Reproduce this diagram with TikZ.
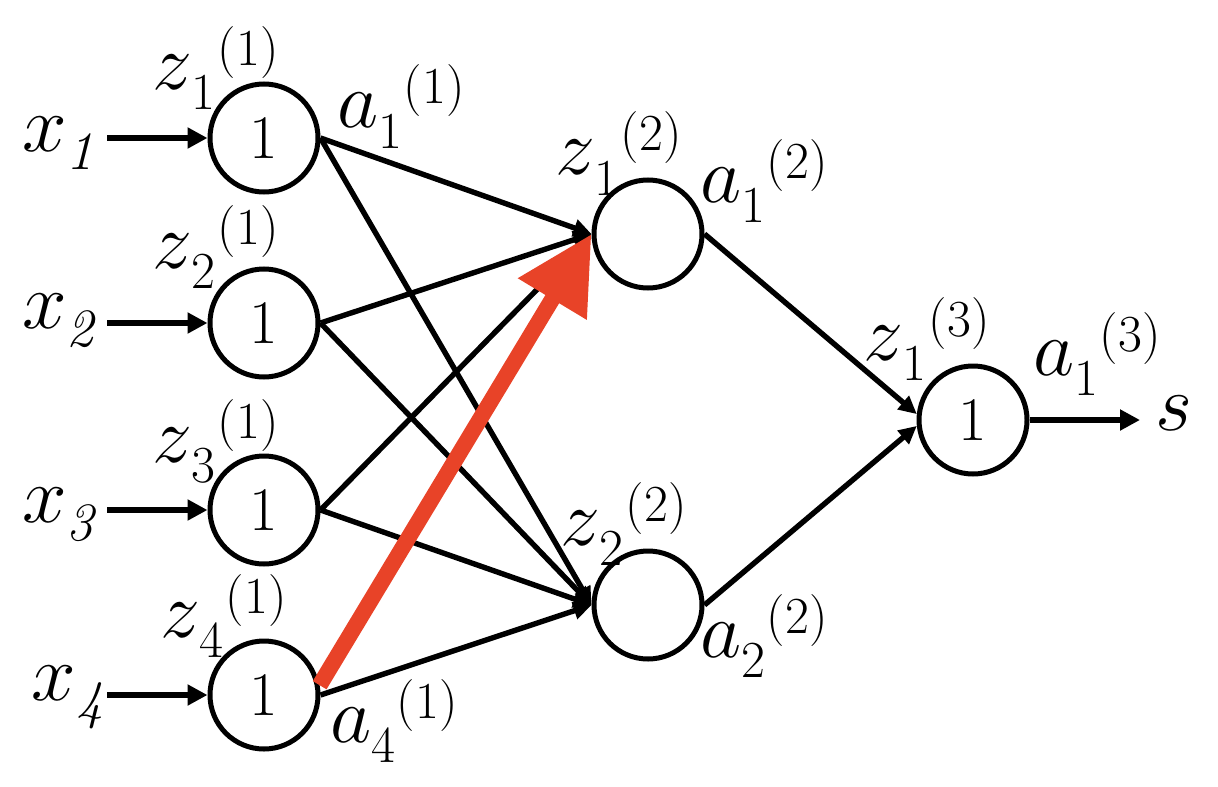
\RequirePackage{fix-cm}
\documentclass[tikz,border=0pt]{standalone}
\usepackage{fontspec}
\usetikzlibrary{arrows.meta}
\definecolor{redarrow}{RGB}{232,67,40}
\newcommand{\bigf}{\fontsize{40}{40}\selectfont}
\newcommand{\xlab}[1]{{\bigf$x$}\raisebox{-9pt}{\fontsize{27}{27}\selectfont$\mathit{#1}$}}
\newcommand{\nlab}[3]{{\bigf$#1$}\raisebox{-10pt}{\fontsize{26}{26}\selectfont$#2$}\hspace{1pt}\raisebox{12pt}{\fontsize{26}{26}\selectfont$(#3)$}}
\begin{document}
\begin{tikzpicture}[x=0.5pt,y=-0.5pt,
  neuron/.style={circle,draw,line width=2.5pt,minimum size=54pt,inner sep=0pt,font=\fontsize{31}{31}\selectfont},
  lab/.style={anchor=base west,inner sep=0pt,outer sep=0pt},
  conn/.style={line width=2.7pt,-{Triangle[length=9pt,width=8.5pt]}},
  inarr/.style={line width=3.4pt,-{Triangle[length=10pt,width=10pt]}},
  hot/.style={line width=8pt,draw=redarrow,-{Triangle[length=38pt,width=38pt]}}]
\useasboundingbox (0,0) rectangle (1218,786);
% neurons
\node[neuron] (n11) at (264,138) {1};
\node[neuron] (n12) at (264,323) {1};
\node[neuron] (n13) at (264,510) {1};
\node[neuron] (n14) at (264,695) {1};
\node[neuron] (n21) at (648,234) {};
\node[neuron] (n22) at (648,605) {};
\node[neuron] (n31) at (973,420) {1};
% input / output coordinates
\coordinate (i1) at (107,138);
\coordinate (i2) at (107,323);
\coordinate (i3) at (107,510);
\coordinate (i4) at (107,695);
\coordinate (o) at (1140,420);
% inputs
\foreach \k in {1,...,4} {\draw[inarr] (i\k) -- (n1\k.west);}
% layer 1 -> 2
\foreach \k in {1,2,3} {\draw[conn] (n1\k.east) -- (n21.west);}
\foreach \k in {1,...,4} {\draw[conn] (n1\k.east) -- (n22.west);}
% layer 2 -> 3
\draw[conn] (n21.east) -- (n31.174);
\draw[conn] (n22.east) -- (n31.186);
% output
\draw[inarr] (n31.east) -- (o);
% highlighted connection
\draw[hot] (n14.10) -- (n21.west);
% labels
\node[lab] (x1) at (22,152) {\xlab{1}};
\node[lab] (x2) at (22,328) {\xlab{2}};
\node[lab] (x3) at (22,522) {\xlab{3}};
\node[lab] (x4) at (32,700) {\xlab{4}};
\node[lab] (z11) at (152,90) {\nlab{z}{1}{1}};
\node[lab] (z21) at (152,268) {\nlab{z}{2}{1}};
\node[lab] (z31) at (152,462) {\nlab{z}{3}{1}};
\node[lab] (z41) at (160,637) {\nlab{z}{4}{1}};
\node[lab] (a11) at (337,128) {\nlab{a}{1}{1}};
\node[lab] (a41) at (330,742) {\nlab{a}{4}{1}};
\node[lab] (z12) at (555,175) {\nlab{z}{1}{2}};
\node[lab] (a12) at (700,202) {\nlab{a}{1}{2}};
\node[lab] (z22) at (560,545) {\nlab{z}{2}{2}};
\node[lab] (a22) at (700,657) {\nlab{a}{2}{2}};
\node[lab] (z13) at (863,360) {\nlab{z}{1}{3}};
\node[lab] (a13) at (1033,375) {\nlab{a}{1}{3}};
\node[lab] (s) at (1155,430) {\bigf$s$};
\end{tikzpicture}
\end{document}
